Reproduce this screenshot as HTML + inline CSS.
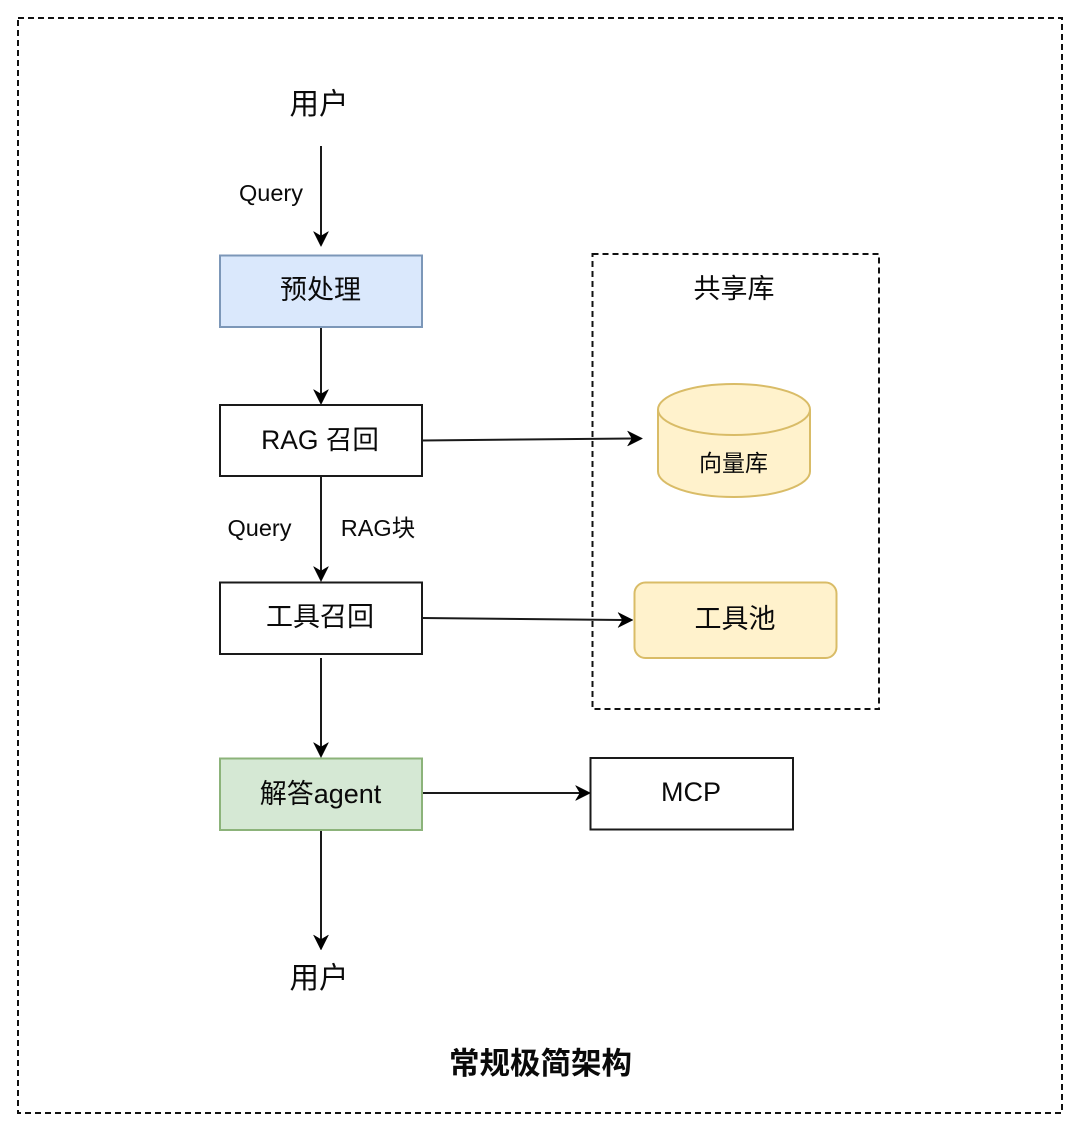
<!DOCTYPE html>
<html>
<head>
<meta charset="utf-8">
<style>
html,body{margin:0;padding:0;background:#fff;width:1080px;height:1131px;overflow:hidden}
svg{display:block}
text{font-family:"Liberation Sans","Noto Sans CJK SC",sans-serif;fill:#0a0a0a;text-anchor:middle}
</style>
</head>
<body>
<svg width="1080" height="1131" viewBox="0 0 1080 1131" xmlns="http://www.w3.org/2000/svg">
<defs>
<path id="ah" d="M0 0 L-7.5 -15 L0 -10.5 L7.5 -15 Z" fill="#000" stroke="#000" stroke-width="0.5"/>
</defs>
<rect x="18" y="18" width="1044" height="1095" fill="#fff" stroke="#111" stroke-width="2" stroke-dasharray="6 4"/>
<rect x="592.5" y="254" width="286.5" height="455" fill="none" stroke="#111" stroke-width="2" stroke-dasharray="6 4"/>

<g stroke="#1a1a1a" stroke-width="2" fill="none">
<line x1="321" y1="146" x2="321" y2="238"/>
<line x1="321" y1="327" x2="321" y2="396"/>
<line x1="321" y1="476" x2="321" y2="573"/>
<line x1="321" y1="658" x2="321" y2="749"/>
<line x1="321" y1="830" x2="321" y2="941"/>
<line x1="422" y1="440.5" x2="632" y2="438.5"/>
<line x1="422" y1="618" x2="623" y2="620"/>
<line x1="422" y1="793" x2="581" y2="793"/>
</g>
<use href="#ah" transform="translate(321 246.5)"/>
<use href="#ah" transform="translate(321 404.5)"/>
<use href="#ah" transform="translate(321 581.5)"/>
<use href="#ah" transform="translate(321 757.5)"/>
<use href="#ah" transform="translate(321 950)"/>
<use href="#ah" transform="translate(642.5 438.5) rotate(-90)"/>
<use href="#ah" transform="translate(633 620) rotate(-90)"/>
<use href="#ah" transform="translate(590.5 793) rotate(-90)"/>

<rect x="220" y="255.5" width="202" height="71.5" fill="#dae8fc" stroke="#7c97b8" stroke-width="2"/>
<rect x="220" y="405" width="202" height="71" fill="#fff" stroke="#1a1a1a" stroke-width="2"/>
<rect x="220" y="582.5" width="202" height="71.5" fill="#fff" stroke="#1a1a1a" stroke-width="2"/>
<rect x="220" y="758.5" width="202" height="71.5" fill="#d5e8d4" stroke="#8cb37a" stroke-width="2"/>
<rect x="590.5" y="758" width="202.5" height="71.5" fill="#fff" stroke="#1a1a1a" stroke-width="2"/>
<rect x="634.5" y="582.5" width="202" height="75.5" rx="11" ry="11" fill="#fff2cc" stroke="#d9bc67" stroke-width="2"/>

<path d="M658 409.5 A76 25.5 0 0 1 810 409.5 V471.5 A76 25.5 0 0 1 658 471.5 Z" fill="#fff2cc" stroke="#d9bc67" stroke-width="2"/>
<path d="M658 409.5 A76 25.5 0 0 0 810 409.5" fill="none" stroke="#d9bc67" stroke-width="2"/>

<text x="319" y="114" font-size="29.5">用户</text>
<text x="271" y="201" font-size="23.5">Query</text>
<text x="320.5" y="299" font-size="27">预处理</text>
<text x="320" y="449" font-size="26.5">RAG 召回</text>
<text x="259.5" y="536" font-size="23.5">Query</text>
<text x="378" y="536" font-size="23.5">RAG块</text>
<text x="320" y="626" font-size="27">工具召回</text>
<text x="320.5" y="803" font-size="27">解答agent</text>
<text x="691" y="801" font-size="27">MCP</text>
<text x="734" y="298" font-size="27">共享库</text>
<text x="733.5" y="471" font-size="23">向量库</text>
<text x="735" y="628" font-size="27">工具池</text>
<text x="319" y="988" font-size="29.5">用户</text>
<text x="540.5" y="1074" font-size="30.5" font-weight="700">常规极简架构</text>
</svg>
</body>
</html>
